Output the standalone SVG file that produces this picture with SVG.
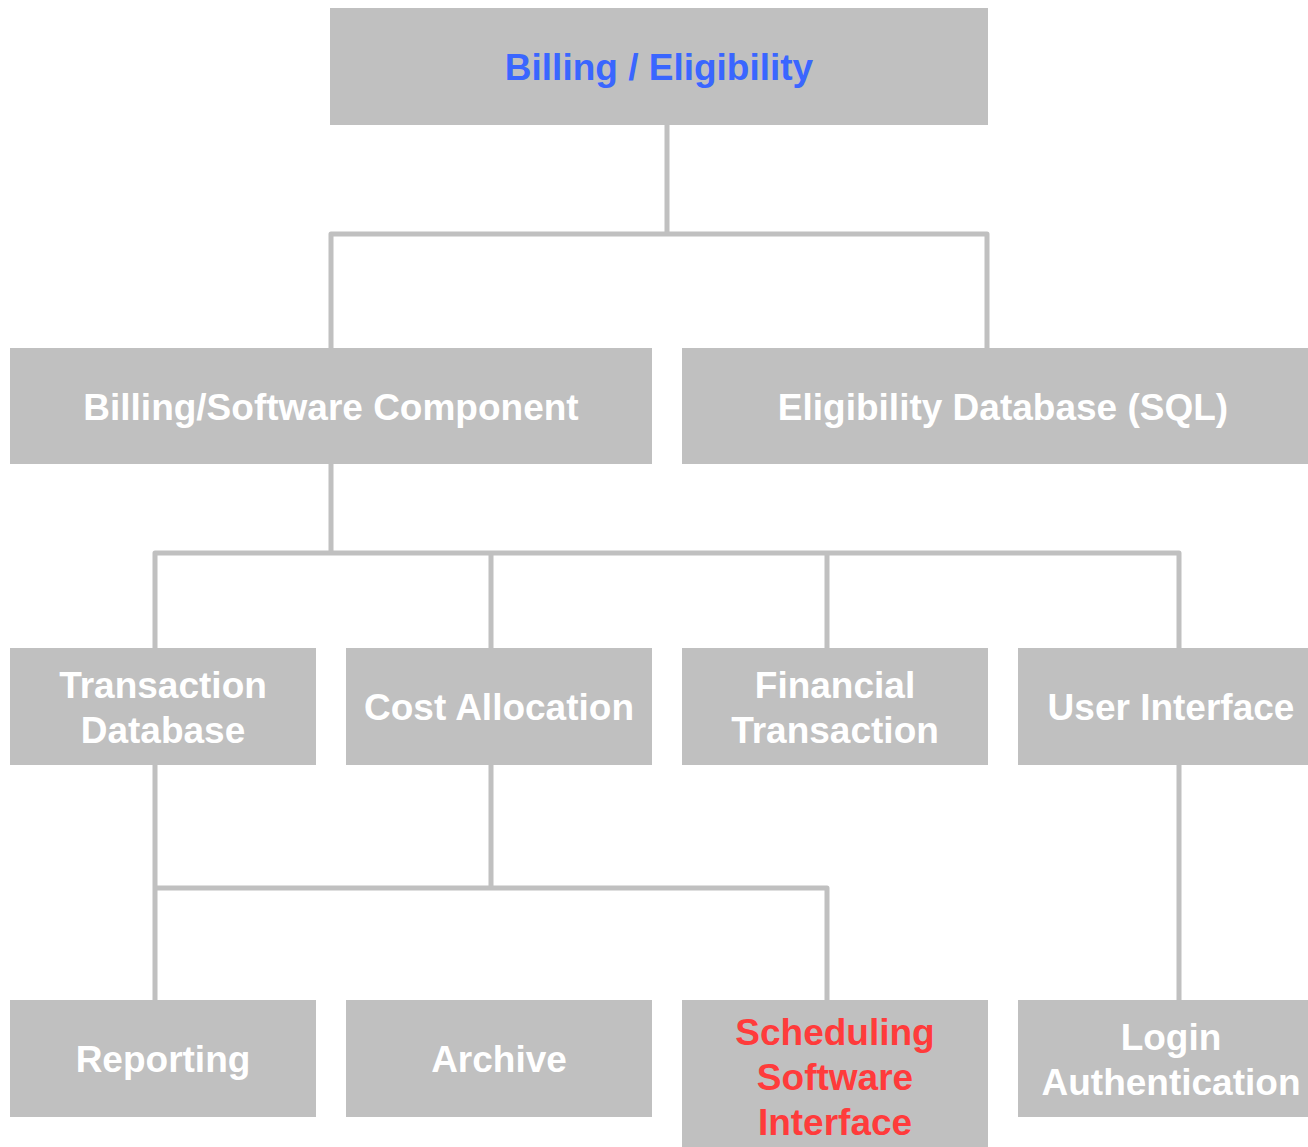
<svg xmlns="http://www.w3.org/2000/svg" width="1308" height="1147" viewBox="0 0 1308 1147">
<style>
.box{fill:#c0c0c0;}
.t{font-family:"Liberation Sans",Arial,sans-serif;font-weight:bold;font-size:37px;text-anchor:middle;fill:#ffffff;}
.blue{fill:#3a66ff;}
.red{fill:#ff3b3b;}
.c{fill:none;stroke:#c0c0c0;stroke-width:5;stroke-linejoin:round;}
</style>
<rect width="1308" height="1147" fill="#ffffff"/>
<g id="connectors">
<path class="c" d="M667,125 V234 M331,348 V234 H987 V348"/>
<path class="c" d="M331,464 V553 M155,648 V553 H1179 V648 M491,553 V648 M827,553 V648"/>
<path class="c" d="M155,765 V1000 M491,765 V888 M155,888 H827 V1000 M1179,765 V1000"/>
</g>
<g id="billing-eligibility"><rect class="box" x="330" y="8" width="658" height="117"/><text class="t blue" x="659" y="80">Billing / Eligibility</text></g>
<g id="billing-software"><rect class="box" x="10" y="348" width="642" height="116"/><text class="t" x="331" y="420">Billing/Software Component</text></g>
<g id="eligibility-db"><rect class="box" x="682" y="348" width="642" height="116"/><text class="t" x="1003" y="420">Eligibility Database (SQL)</text></g>
<g id="transaction-db"><rect class="box" x="10" y="648" width="306" height="117"/><text class="t" x="163" y="698">Transaction</text><text class="t" x="163" y="743">Database</text></g>
<g id="cost-allocation"><rect class="box" x="346" y="648" width="306" height="117"/><text class="t" x="499" y="720">Cost Allocation</text></g>
<g id="financial-transaction"><rect class="box" x="682" y="648" width="306" height="117"/><text class="t" x="835" y="698">Financial</text><text class="t" x="835" y="743">Transaction</text></g>
<g id="user-interface"><rect class="box" x="1018" y="648" width="306" height="117"/><text class="t" x="1171" y="720">User Interface</text></g>
<g id="reporting"><rect class="box" x="10" y="1000" width="306" height="117"/><text class="t" x="163" y="1072">Reporting</text></g>
<g id="archive"><rect class="box" x="346" y="1000" width="306" height="117"/><text class="t" x="499" y="1072">Archive</text></g>
<g id="scheduling"><rect class="box" x="682" y="1000" width="306" height="160"/><text class="t red" x="835" y="1045">Scheduling</text><text class="t red" x="835" y="1090">Software</text><text class="t red" x="835" y="1135">Interface</text></g>
<g id="login-auth"><rect class="box" x="1018" y="1000" width="306" height="117"/><text class="t" x="1171" y="1050">Login</text><text class="t" x="1171" y="1095">Authentication</text></g>
</svg>
